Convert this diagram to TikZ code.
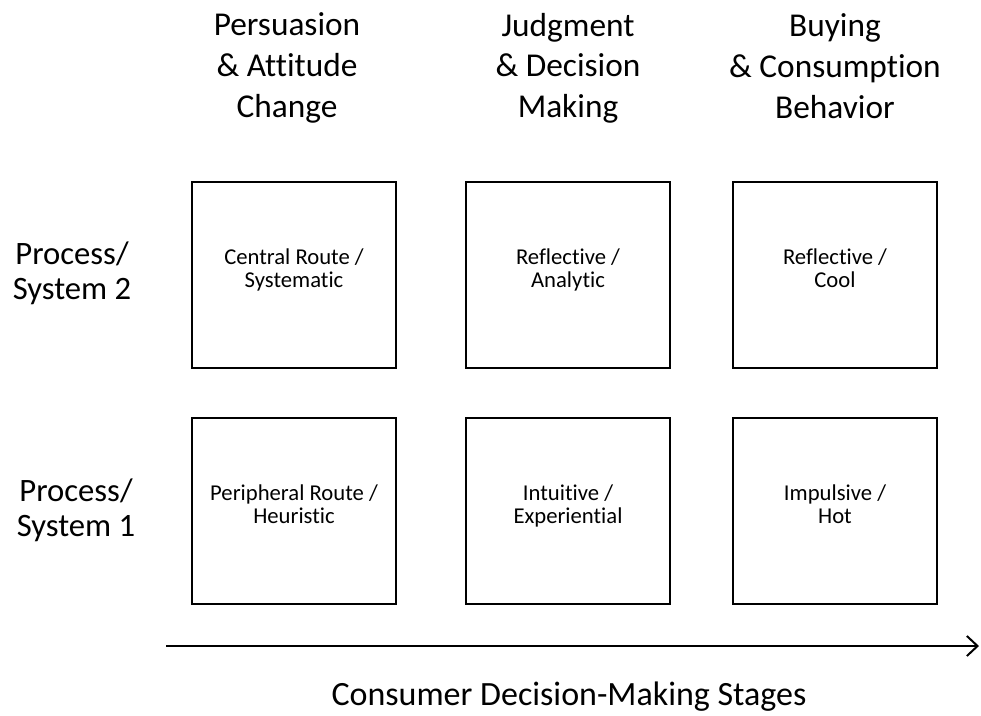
\documentclass[tikz,border=0pt]{standalone}
\usepackage{fontspec}
\setmainfont{Carlito}[Ligatures=CommonOff]
\usetikzlibrary{arrows.meta}

\tikzset{
  stage/.style={align=center,font=\fontsize{25}{30.5}\selectfont},
  sysname/.style={align=center,font=\fontsize{24.5}{26.5}\selectfont},
  cell/.style={draw=black,line width=1.6pt,minimum width=153pt,minimum height=139.5pt,
    inner sep=0pt,text depth=10pt,align=center,font=\fontsize{17}{17.5}\selectfont},
}

\begin{document}
\begin{tikzpicture}[x=0.75pt,y=-0.75pt]
\useasboundingbox (0,0) rectangle (981,715);

% stage headings
\node[stage] (persuasion) at (287,68) {Persuasion\\\& Attitude\\Change};
\node[stage] (judgment) at (568,68) {Judgment\\\& Decision\\Making};
\node[stage] (buying) at (835,66) {Buying\\\& Consumption\\Behavior};

% the two systems
\node[sysname] (systwo) at (72,273) {Process/\\System 2};
\node[sysname] (sysone) at (76,510) {Process/\\System 1};

% grid of boxes
\node[cell] (central) at (294,275) {Central Route /\\Systematic};
\node[cell] (reflA) at (568,275) {Reflective /\\Analytic};
\node[cell] (reflC) at (835,275) {Reflective /\\Cool};
\node[cell] (periph) at (294,511) {Peripheral Route /\\Heuristic};
\node[cell] (intuit) at (568,511) {Intuitive /\\Experiential};
\node[cell] (impuls) at (835,511) {Impulsive /\\Hot};

% stages axis
\coordinate (axisstart) at (166,646);
\coordinate (axisend) at (979,646);
\draw[line width=1.5pt,-{Straight Barb[length=8pt,width=15pt]}] (axisstart) -- (axisend);
\node[font=\fontsize{25.5}{28}\selectfont] (stages) at (569,697) {Consumer Decision-Making Stages};
\end{tikzpicture}
\end{document}
